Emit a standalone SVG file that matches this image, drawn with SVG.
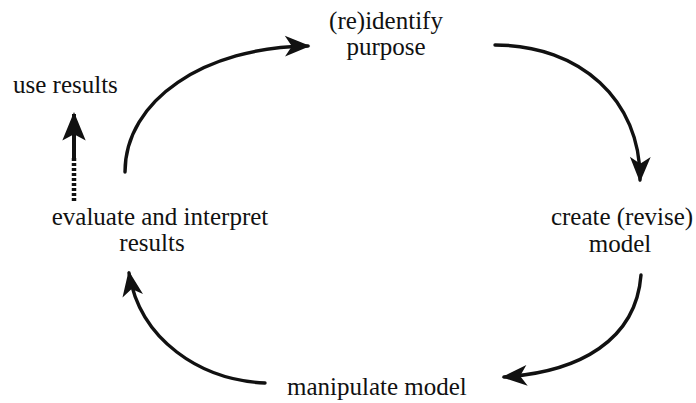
<svg xmlns="http://www.w3.org/2000/svg" width="696" height="403" viewBox="0 0 696 403">
<style>
text{font-family:"Liberation Serif","Times New Roman",serif;font-size:25px;fill:#111;}
.c{fill:none;stroke:#111;stroke-width:3.4;stroke-linecap:round;}
</style>
<defs>
<marker id="ah" markerUnits="userSpaceOnUse" markerWidth="30" markerHeight="30" viewBox="-22 -12 26 24" refX="0" refY="0" orient="auto">
<path d="M2,0 L-20,-9 L-14,0 L-20,9 Z" fill="#111"/>
</marker>
<marker id="ah2" markerUnits="userSpaceOnUse" markerWidth="34" markerHeight="34" viewBox="-28 -14 32 28" refX="0" refY="0" orient="auto">
<path d="M2,0 L-25,-11 L-19,0 L-25,11 Z" fill="#111"/>
</marker>
</defs>
<rect width="696" height="403" fill="#fff"/>
<g id="n-purpose"><text x="386" y="29" text-anchor="middle">(re)identify</text><text x="386" y="55" text-anchor="middle">purpose</text></g>
<g id="n-create"><text x="622" y="225" text-anchor="middle">create (revise)</text><text x="620" y="252" text-anchor="middle">model</text></g>
<g id="n-manipulate"><text x="287" y="395">manipulate model</text></g>
<g id="n-evaluate"><text x="160" y="225" text-anchor="middle">evaluate and interpret</text><text x="152" y="251" text-anchor="middle">results</text></g>
<g id="n-use"><text x="13" y="93">use results</text></g>
<g id="connectors">
<path class="c" d="M125,172 C125,100 205,47 308,46" marker-end="url(#ah)"/>
<path class="c" d="M495,45 C580,45 641,100 640,180" marker-end="url(#ah)"/>
<path class="c" d="M641,275 C636,340 580,372 504,377" marker-end="url(#ah)"/>
<path class="c" d="M265,383 C200,380 140,340 129,273" marker-end="url(#ah)"/>
<line x1="74" y1="158" x2="74" y2="114" stroke="#111" stroke-width="4" marker-end="url(#ah2)"/>
<line x1="74" y1="158" x2="74" y2="202" stroke="#111" stroke-width="4.5" stroke-dasharray="3,2"/>
</g>
</svg>
